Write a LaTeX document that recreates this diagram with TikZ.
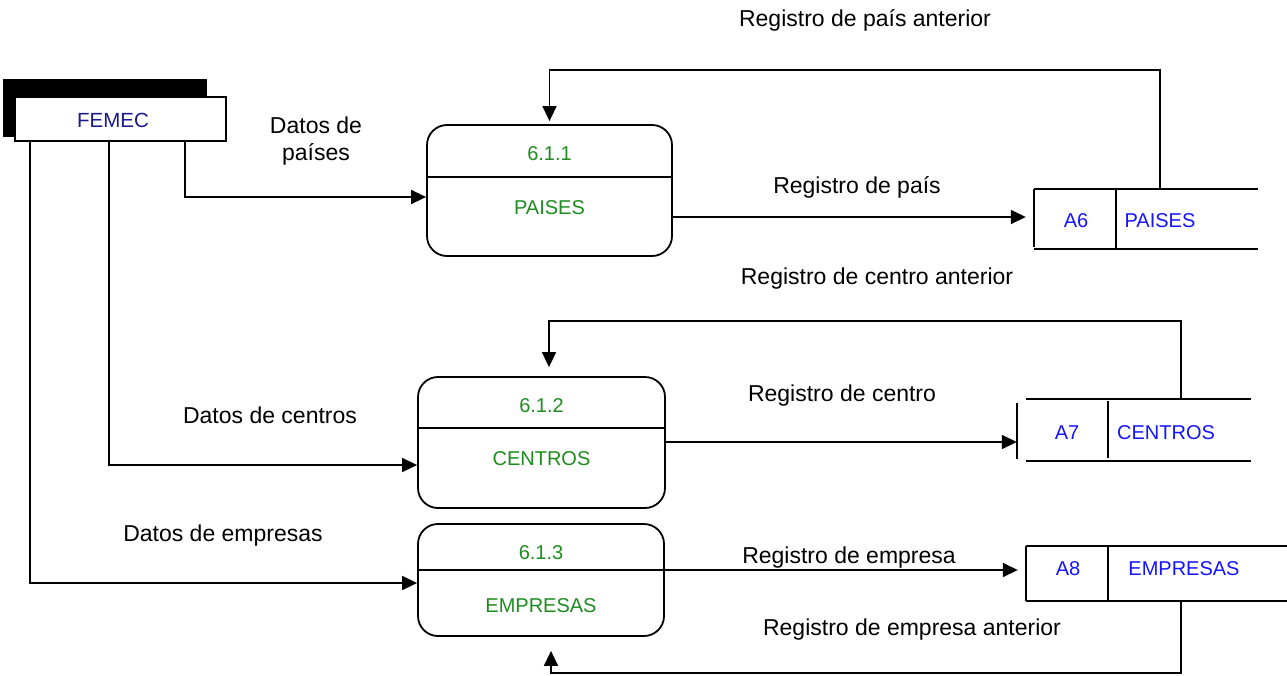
\documentclass[tikz,border=0pt]{standalone}
\usepackage{fontspec}
\setmainfont{Liberation Sans}
\usetikzlibrary{arrows.meta,calc}
\definecolor{procgreen}{RGB}{30,140,30}
\definecolor{storeblue}{RGB}{20,20,255}
\definecolor{extnavy}{RGB}{26,26,140}
\begin{document}
\begin{tikzpicture}[x=1pt,y=-1pt,
  conn/.style={line width=1.6pt},
  arr/.style={line width=1.6pt,-{Triangle[length=15pt,width=14pt]}},
  procbox/.style={draw,line width=1.8pt,rounded corners=20pt,inner sep=0pt},
  storebox/.style={inner sep=0pt},
  storeline/.style={line width=2pt},
  lbl/.style={font=\fontsize{23}{27}\selectfont,anchor=base,inner sep=0pt},
  ptxt/.style={font=\fontsize{20}{24}\selectfont,text=procgreen,anchor=base,inner sep=0pt},
  stxt/.style={font=\fontsize{20}{24}\selectfont,text=storeblue,anchor=base,inner sep=0pt}
]
\useasboundingbox (0,0) rectangle (1287,675);

% external entity
\fill (3,79) rectangle (207,137);
\node[draw,fill=white,line width=1.6pt,inner sep=0pt,minimum width=211pt,minimum height=44pt] (femec) at (120.5,119) {};
\node[font=\fontsize{20.5}{24}\selectfont,text=extnavy,anchor=base,inner sep=0pt] (femect) at (113,127) {FEMEC};

% processes
\node[procbox,minimum width=245pt,minimum height=131pt] (p1) at (549.5,190.5) {};
\draw[conn] ($(p1.west)+(0,-13.5)$) -- ($(p1.east)+(0,-13.5)$);
\node[ptxt] (p1n) at (549.5,160) {6.1.1};
\node[ptxt] (p1t) at (549.5,214) {PAISES};

\node[procbox,minimum width=247pt,minimum height=131pt] (p2) at (541.5,442.5) {};
\draw[conn] ($(p2.west)+(0,-14.5)$) -- ($(p2.east)+(0,-14.5)$);
\node[ptxt] (p2n) at (541.5,412) {6.1.2};
\node[ptxt] (p2t) at (541.5,465) {CENTROS};

\node[procbox,minimum width=246pt,minimum height=112pt] (p3) at (541,580) {};
\draw[conn] ($(p3.west)+(0,-10)$) -- ($(p3.east)+(0,-10)$);
\node[ptxt] (p3n) at (541,559) {6.1.3};
\node[ptxt] (p3t) at (541,612) {EMPRESAS};

% data stores
\node[storebox,minimum width=224pt,minimum height=60pt] (s6) at (1146,219) {};
\draw[storeline] (s6.north west) -- (s6.north east);
\draw[storeline] (s6.south west) -- (s6.south east);
\draw[storeline] (s6.north west) -- ($(s6.south west)+(0,-2)$);
\draw[storeline] ($(s6.north west)+(82,0)$) -- ($(s6.south west)+(82,0)$);
\node[stxt] (s6a) at (1076,227) {A6};
\node[stxt] (s6b) at (1160,227) {PAISES};

\node[storebox,minimum width=234pt,minimum height=62pt] (s7) at (1134,430) {};
\draw[storeline] ($(s7.north west)+(9,0)$) -- (s7.north east);
\draw[storeline] ($(s7.south west)+(9,0)$) -- (s7.south east);
\draw[storeline] ($(s7.north west)+(0,4)$) -- ($(s7.south west)+(0,-2)$);
\draw[storeline] ($(s7.north west)+(91,2)$) -- ($(s7.south west)+(91,-3)$);
\node[stxt] (s7a) at (1067,439) {A7};
\node[stxt] (s7b) at (1166,439) {CENTROS};

\node[storebox,minimum width=261pt,minimum height=55pt] (s8) at (1156.5,573.5) {};
\draw[storeline] (s8.north west) -- (s8.north east);
\draw[storeline] (s8.south west) -- (s8.south east);
\draw[storeline] (s8.north west) -- (s8.south west);
\draw[storeline] ($(s8.north west)+(82,0)$) -- ($(s8.south west)+(82,0)$);
\node[stxt] (s8a) at (1068,575) {A8};
\node[stxt] (s8b) at (1184,575) {EMPRESAS};

% connectors from FEMEC
\draw[arr] ($(femec.south)+(64.5,0)$) |- ($(p1.west)+(0,6.5)$);
\draw[arr] ($(femec.south)+(-11.5,0)$) |- ($(p2.west)+(0,22.5)$);
\draw[arr] ($(femec.south)+(-90.5,0)$) |- ($(p3.west)+(0,3)$);

% process to stores
\draw[arr] ($(p1.east)+(0,26.5)$) -- ($(s6.west)+(-8,-2)$);
\draw[arr] ($(p2.east)+(0,-0.5)$) -- ($(s7.west)+(0,12)$);
\draw[arr] ($(p3.east)+(0,-10)$) -- ($(s8.west)+(-8,-3.5)$);

% feedback loops
\draw[arr,shorten >=3pt] ($(s6.north)+(14,0)$) |- ($(p1.north)+(0,-54)$) -- (p1.north);
\draw[arr,shorten >=9pt] ($(s7.north)+(47,0)$) |- ($(p2.north)+(7.5,-55)$) -- ($(p2.north)+(7.5,0)$);
\draw[arr,shorten >=14pt] ($(s8.south)+(24.5,0)$) |- ($(p3.south)+(10,36)$) -- ($(p3.south)+(10,0)$);

% labels
\node[lbl] (l1) at (865,26) {Registro de país anterior};
\node[font=\fontsize{23}{27}\selectfont,align=center,inner sep=0pt] (l2) at (316,141) {Datos de\\países};
\node[lbl] (l3) at (857,193) {Registro de país};
\node[lbl] (l4) at (877,284) {Registro de centro anterior};
\node[lbl] (l5) at (270,423) {Datos de centros};
\node[lbl] (l6) at (842,401) {Registro de centro};
\node[lbl] (l7) at (223,541) {Datos de empresas};
\node[lbl] (l8) at (849,563) {Registro de empresa};
\node[lbl] (l9) at (912,635) {Registro de empresa anterior};
\end{tikzpicture}
\end{document}
